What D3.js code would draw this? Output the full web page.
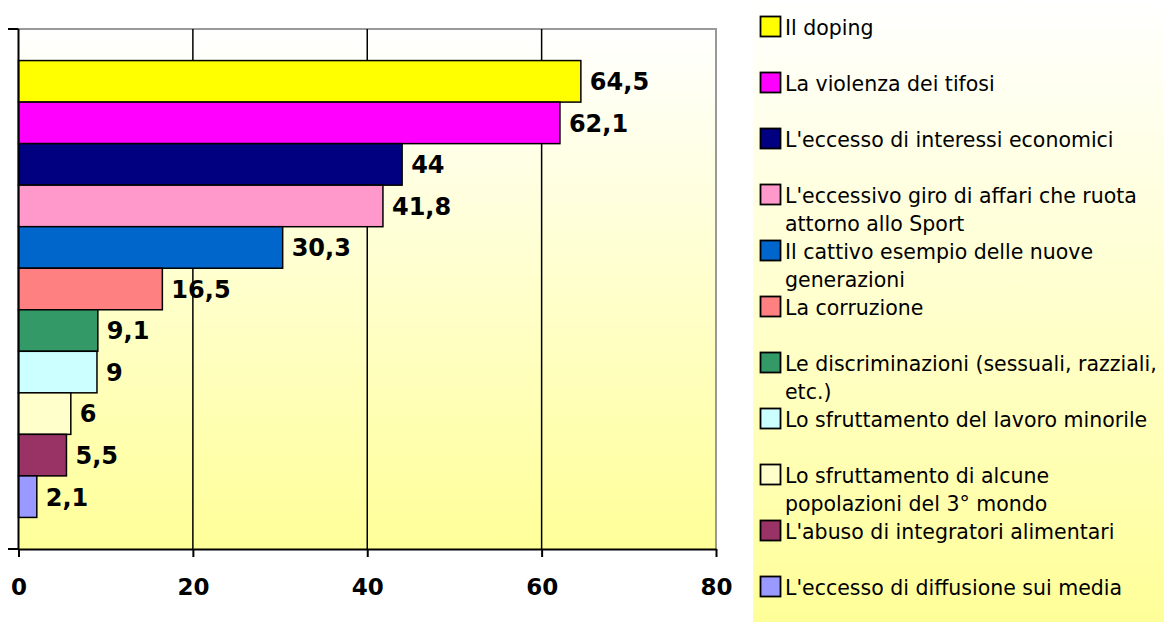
<!DOCTYPE html>
<html>
<head>
<meta charset="utf-8">
<script src="https://cdn.jsdelivr.net/npm/d3@7"></script>
<style>
  html, body { margin: 0; padding: 0; background: #ffffff; }
  svg { display: block; }
</style>
</head>
<body>
<svg id="chart" width="1164" height="623"></svg>
<script>
// ---- data ----
const categories = [
  "Il doping",
  "La violenza dei tifosi",
  "L'eccesso di interessi economici",
  "L'eccessivo giro di affari che ruota attorno allo Sport",
  "Il cattivo esempio delle nuove generazioni",
  "La corruzione",
  "Le discriminazioni (sessuali, razziali, etc.)",
  "Lo sfruttamento del lavoro minorile",
  "Lo sfruttamento di alcune popolazioni del 3° mondo",
  "L'abuso di integratori alimentari",
  "L'eccesso di diffusione sui media"
];
const values = [64.5, 62.1, 44, 41.8, 30.3, 16.5, 9.1, 9, 6, 5.5, 2.1];
const colors = ["#FFFF00", "#FF00FF", "#000080", "#FF99CC", "#0066CC", "#FF8080",
                "#339966", "#CCFFFF", "#FFFFCC", "#993366", "#9999FF"];
const xTicks = [0, 20, 40, 60, 80];

// ---- layout ----
const svg = d3.select("#chart");
const plot = { left: 18.5, right: 716, top: 29, bottom: 549 };

const defs = svg.append("defs");
function grad(id) {
  const g = defs.append("linearGradient").attr("id", id)
    .attr("x1", 0).attr("y1", 0).attr("x2", 0).attr("y2", 1);
  g.append("stop").attr("offset", "0%").attr("stop-color", "#FFFFFF");
  g.append("stop").attr("offset", "100%").attr("stop-color", "#FFFF99");
}
grad("plotGrad");
grad("legGrad");

const x = d3.scaleLinear().domain([0, 80]).range([plot.left, plot.right]);
const y = d3.scaleBand().domain(categories).range([plot.top, plot.bottom])
  .paddingInner(0).paddingOuter(0.76);

// plot background
svg.append("rect")
  .attr("x", plot.left).attr("y", plot.top)
  .attr("width", plot.right - plot.left).attr("height", plot.bottom - plot.top)
  .attr("fill", "url(#plotGrad)");

// top and right border (grey)
svg.append("path")
  .attr("d", `M${plot.left},${plot.top}H${plot.right}V${plot.bottom}`)
  .attr("fill", "none").attr("stroke", "#999999").attr("stroke-width", 2);

// gridlines
svg.append("g").selectAll("line")
  .data(xTicks.filter(t => t > 0 && t < 80))
  .join("line")
  .attr("x1", d => x(d)).attr("x2", d => x(d))
  .attr("y1", plot.top).attr("y2", plot.bottom)
  .attr("stroke", "#000").attr("stroke-width", 1.5);

// bars
svg.append("g").selectAll("rect")
  .data(categories)
  .join("rect")
  .attr("x", x(0))
  .attr("y", d => y(d))
  .attr("width", (d, i) => x(values[i]) - x(0))
  .attr("height", y.bandwidth())
  .attr("fill", (d, i) => colors[i])
  .attr("stroke", "#000").attr("stroke-width", 1.5);

// value labels
svg.append("g").selectAll("text")
  .data(categories)
  .join("text")
  .attr("x", (d, i) => x(values[i]) + 9)
  .attr("y", d => y(d) + y.bandwidth() / 2)
  .attr("dy", "0.37em")
  .attr("font-family", "DejaVu Sans")
  .attr("font-weight", "bold")
  .attr("font-size", 24)
  .attr("fill", "#000")
  .text((d, i) => String(values[i]).replace(".", ","));

// left axis line + ticks
svg.append("line")
  .attr("x1", plot.left).attr("x2", plot.left)
  .attr("y1", plot.top).attr("y2", plot.bottom)
  .attr("stroke", "#000").attr("stroke-width", 2);
svg.append("g").selectAll("line")
  .data([plot.top, plot.bottom])
  .join("line")
  .attr("x1", 8).attr("x2", plot.left)
  .attr("y1", d => d).attr("y2", d => d)
  .attr("stroke", "#000").attr("stroke-width", 2);

// x axis
const xAxis = svg.append("g")
  .attr("transform", `translate(0,${plot.bottom})`)
  .call(d3.axisBottom(x).tickValues(xTicks).tickSize(8).tickSizeOuter(0).tickPadding(22));
xAxis.select(".domain").attr("stroke", "#000").attr("stroke-width", 2);
xAxis.selectAll(".tick line").attr("stroke", "#000").attr("stroke-width", 2);
xAxis.selectAll(".tick text")
  .attr("font-family", "DejaVu Sans")
  .attr("font-weight", "bold")
  .attr("font-size", 23)
  .attr("fill", "#000");

// ---- legend ----
const leg = svg.append("g");
leg.append("rect")
  .attr("x", 753).attr("y", 2)
  .attr("width", 1164 - 753).attr("height", 620)
  .attr("fill", "url(#legGrad)");

const legFont = 20.5;
const legTop = 35, legStep = 56, legLine = 28.3, legWrap = 378;
categories.forEach((c, i) => {
  const by = legTop + i * legStep;
  leg.append("rect")
    .attr("x", 760.5).attr("y", by - 18.5)
    .attr("width", 20).attr("height", 20)
    .attr("fill", colors[i])
    .attr("stroke", "#000").attr("stroke-width", 1.8);
  const t = leg.append("text")
    .attr("font-family", "DejaVu Sans")
    .attr("font-size", legFont)
    .attr("fill", "#000");
  const words = c.split(" ");
  let line = [], lineNo = 0;
  let ts = t.append("tspan").attr("x", 785).attr("y", by);
  words.forEach(w => {
    line.push(w);
    ts.text(line.join(" "));
    if (ts.node().getComputedTextLength() > legWrap && line.length > 1) {
      line.pop();
      ts.text(line.join(" "));
      line = [w];
      lineNo++;
      ts = t.append("tspan").attr("x", 785).attr("y", by + lineNo * legLine).text(w);
    }
  });
});
</script>
</body>
</html>
